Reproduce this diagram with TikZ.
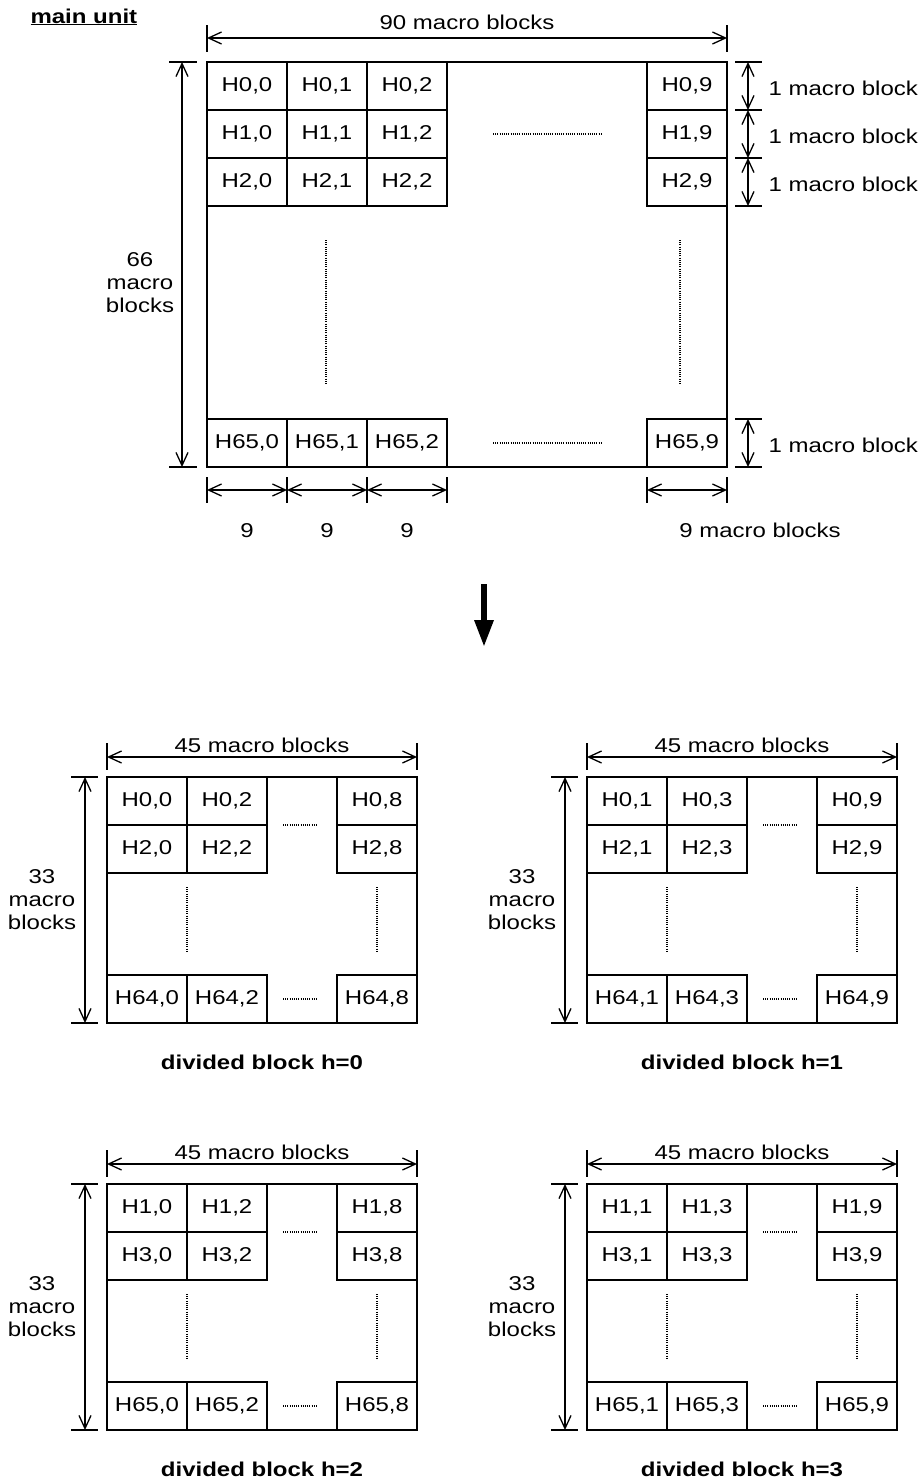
\documentclass[tikz,border=0pt]{standalone}
\usepackage{fontspec}
\setmainfont{Liberation Sans}[FakeStretch=1.2]
\usetikzlibrary{arrows.meta}
\newcommand\divblock[9]{%
  \begin{scope}[shift={(#1,#2)}]
    \node[unitframe,minimum width=310pt,minimum height=246pt] (f#9) at (107,777) {};
    \node[cell] (d#9a) at (107,777) {H#3,#6};
    \node[cell] (d#9b) at (187,777) {H#3,#7};
    \node[cell] (d#9c) at (337,777) {H#3,#8};
    \node[cell] (d#9d) at (107,825) {H#4,#6};
    \node[cell] (d#9e) at (187,825) {H#4,#7};
    \node[cell] (d#9f) at (337,825) {H#4,#8};
    \node[cell] (d#9g) at (107,975) {H#5,#6};
    \node[cell] (d#9h) at (187,975) {H#5,#7};
    \node[cell] (d#9i) at (337,975) {H#5,#8};
    \draw[dots] (283,825) -- (318,825);
    \draw[dots] (283,999) -- (318,999);
    \draw[dots] (187,887) -- (187,952);
    \draw[dots] (377,887) -- (377,952);
    % top dimension
    \coordinate (t#9l) at (107,757);
    \coordinate (t#9r) at (417,757);
    \draw[ext] (107,743) -- (107,770);
    \draw[ext] (417,743) -- (417,770);
    \draw[dimline] (t#9l) -- (t#9r);
    \node[anchor=base] (tl#9) at (262,752) {45 macro blocks};
    % left dimension
    \coordinate (l#9t) at (85,777);
    \coordinate (l#9b) at (85,1023);
    \draw[ext] (71,777) -- (98,777);
    \draw[ext] (71,1023) -- (98,1023);
    \draw[dimline] (l#9t) -- (l#9b);
    \node[align=center] (ll#9) at (42,900) {33\\macro\\blocks};
    \node[anchor=base,font=\fontsize{20}{23}\selectfont\bfseries] (c#9) at (262,1069) {divided block h=#9};
  \end{scope}}
\begin{document}
\begin{tikzpicture}[x=1pt,y=-1pt,
  every node/.style={font=\fontsize{20}{23}\selectfont},
  cell/.style={draw,line width=1.9pt,minimum width=80pt,minimum height=48pt,inner sep=0pt,outer sep=0pt,anchor=north west},
  unitframe/.style={draw,line width=1.9pt,inner sep=0pt,outer sep=0pt,anchor=north west},
  dimline/.style={line width=1.3pt,{Straight Barb[length=13pt,width=12pt]}-{Straight Barb[length=13pt,width=12pt]}},
  ext/.style={line width=1.3pt},
  dots/.style={line width=1.3pt,dash pattern=on 1pt off 1.2pt}]
\useasboundingbox (0,0) rectangle (922,1481);

% title
\node[anchor=base west,font=\fontsize{20}{23}\selectfont\bfseries] (title) at (27,23) {\underline{main unit}};

% main unit frame and cells
\node[unitframe,minimum width=520pt,minimum height=405pt] (mf) at (207,62) {};
\foreach \r/\ry in {0/62,1/110,2/158,65/419}{
  \foreach \c/\cx in {0/207,1/287,2/367,9/647}{
    \node[cell] (m\r-\c) at (\cx,\ry) {H\r,\c};
  }
}
% dotted gaps
\draw[dots] (493,134) -- (603,134);
\draw[dots] (493,443) -- (603,443);
\draw[dots] (326,240) -- (326,385);
\draw[dots] (680,240) -- (680,385);

% top dimension
\coordinate (tl) at (207,38);
\coordinate (tr) at (727,38);
\draw[ext] (207,25) -- (207,52);
\draw[ext] (727,25) -- (727,52);
\draw[dimline] (tl) -- (tr);
\node[anchor=base] (toplabel) at (467,29) {90 macro blocks};

% left dimension
\coordinate (lt) at (182,62);
\coordinate (lb) at (182,467);
\draw[ext] (169,62) -- (197,62);
\draw[ext] (169,467) -- (197,467);
\draw[dimline] (lt) -- (lb);
\node[align=center] (leftlabel) at (140,283) {66\\macro\\blocks};

% right dimensions
\foreach \y in {62,110,158,206,419,467}{
  \draw[ext] (735,\y) -- (762,\y);
}
\coordinate (r0) at (748,62);
\coordinate (r1) at (748,110);
\coordinate (r2) at (748,158);
\coordinate (r3) at (748,206);
\coordinate (r4) at (748,419);
\coordinate (r5) at (748,467);
\draw[dimline] (r0) -- (r1);
\draw[dimline] (r1) -- (r2);
\draw[dimline] (r2) -- (r3);
\draw[dimline] (r4) -- (r5);
\node[anchor=base west] (rl0) at (765,95) {1 macro block};
\node[anchor=base west] (rl1) at (765,143) {1 macro block};
\node[anchor=base west] (rl2) at (765,191) {1 macro block};
\node[anchor=base west] (rl3) at (765,452) {1 macro block};

% bottom dimensions
\foreach \x in {207,287,367,447,647,727}{
  \draw[ext] (\x,477) -- (\x,503);
}
\coordinate (b0) at (207,490);
\coordinate (b1) at (287,490);
\coordinate (b2) at (367,490);
\coordinate (b3) at (447,490);
\coordinate (b4) at (647,490);
\coordinate (b5) at (727,490);
\draw[dimline] (b0) -- (b1);
\draw[dimline] (b1) -- (b2);
\draw[dimline] (b2) -- (b3);
\draw[dimline] (b4) -- (b5);
\node[anchor=base] (bl0) at (247,537) {9};
\node[anchor=base] (bl1) at (327,537) {9};
\node[anchor=base] (bl2) at (407,537) {9};
\node[anchor=base] (bl3) at (760,537) {9 macro blocks};

% big arrow
\coordinate (as) at (484,584);
\coordinate (ae) at (484,647);
\draw[line width=6pt,-{Triangle[length=27pt,width=18pt]}] (as) -- (ae);

% divided blocks
\divblock{0}{0}{0}{2}{64}{0}{2}{8}{0}
\divblock{480}{0}{0}{2}{64}{1}{3}{9}{1}
\divblock{0}{407}{1}{3}{65}{0}{2}{8}{2}
\divblock{480}{407}{1}{3}{65}{1}{3}{9}{3}
\end{tikzpicture}
\end{document}
